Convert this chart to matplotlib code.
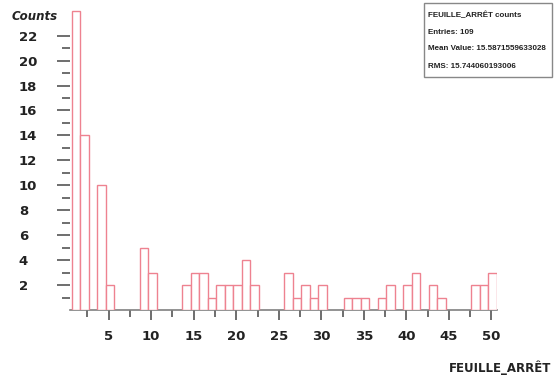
from matplotlib import pyplot as plt
from matplotlib.patches import Rectangle
import numpy as np

# Histogram content (value -> number of entries)
values = np.arange(1, 51)
counts = [24, 14, 0, 10, 2, 0, 0, 0, 5, 3,
          0, 0, 0, 2, 3, 3, 1, 2, 2, 2,
          4, 2, 0, 0, 0, 3, 1, 2, 1, 2,
          0, 0, 1, 1, 1, 0, 1, 2, 0, 2,
          3, 0, 2, 1, 0, 0, 0, 2, 2, 3]

x_major = [5, 10, 15, 20, 25, 30, 35, 40, 45, 50]
x_minor = [2.5, 7.5, 12.5, 17.5, 22.5, 27.5, 32.5, 37.5, 42.5, 47.5]
y_major = [2, 4, 6, 8, 10, 12, 14, 16, 18, 20, 22]
y_minor = [1, 3, 5, 7, 9, 11, 13, 15, 17, 19, 21]

stats_lines = ["FEUILLE_ARRÊT counts",
               "Entries: 109",
               "Mean Value: 15.5871559633028",
               "RMS: 15.744060193006"]
x_title = "FEUILLE_ARRÊT"
y_title = "Counts"

W, H = 554, 387
fig = plt.figure(figsize=(W / 100, H / 100), dpi=100)
ax = fig.add_axes([70 / W, 1 - 310 / H, 427 / W, 303 / H])

# bins are one unit wide, starting a bit left of each value
offset = 0.35
counts = np.array(counts)
mask = counts > 0
ax.bar(values[mask] - offset, counts[mask], width=1.0, align='edge',
       facecolor='white', edgecolor='#ee8290', linewidth=1.0, zorder=3)

ax.set_xlim(1 - offset - 0.2, 51 - offset)
ax.set_ylim(0, 24.3)

for s in ['top', 'right', 'left']:
    ax.spines[s].set_visible(False)
ax.spines['bottom'].set_color('#808080')
ax.spines['bottom'].set_linewidth(1.2)

ax.set_xticks(x_major)
ax.set_xticks(x_minor, minor=True)
ax.set_yticks(y_major)
ax.set_yticks(y_minor, minor=True)

ax.tick_params(axis='x', which='major', length=7.2, width=1.2, color='#555555',
               pad=7, labelsize=9.5)
ax.tick_params(axis='x', which='minor', length=5, width=1.2, color='#555555')
ax.tick_params(axis='y', which='major', length=9.4, width=1.2, color='#555555',
               pad=27.5, labelsize=9.5)
ax.tick_params(axis='y', which='minor', length=5.8, width=1.2, color='#555555')
for lab in ax.get_xticklabels() + ax.get_yticklabels():
    lab.set_fontweight('bold')
    lab.set_color('#222222')
for lab in ax.get_yticklabels():
    lab.set_horizontalalignment('left')

fig.text(12 / W, 1 - 16 / H, y_title, fontsize=8.5, fontweight='bold',
         fontstyle='italic', color='#222222', ha='left', va='center')
fig.text(551 / W, 1 - 368 / H, x_title, fontsize=8.5, fontweight='bold',
         color='#222222', ha='right', va='center')

# statistics box
fig.patches.append(Rectangle((424 / W, 1 - 77 / H), 128 / W, 74 / H,
                             transform=fig.transFigure, facecolor='white',
                             edgecolor='#888888', linewidth=1.0))
for i, line in enumerate(stats_lines):
    fig.text(428 / W, 1 - (15 + 17 * i) / H, line, fontsize=5.8,
             fontweight='bold', family='Liberation Sans', color='#222222',
             ha='left', va='center')

plt.savefig('out.png', dpi=100)
plt.close()
